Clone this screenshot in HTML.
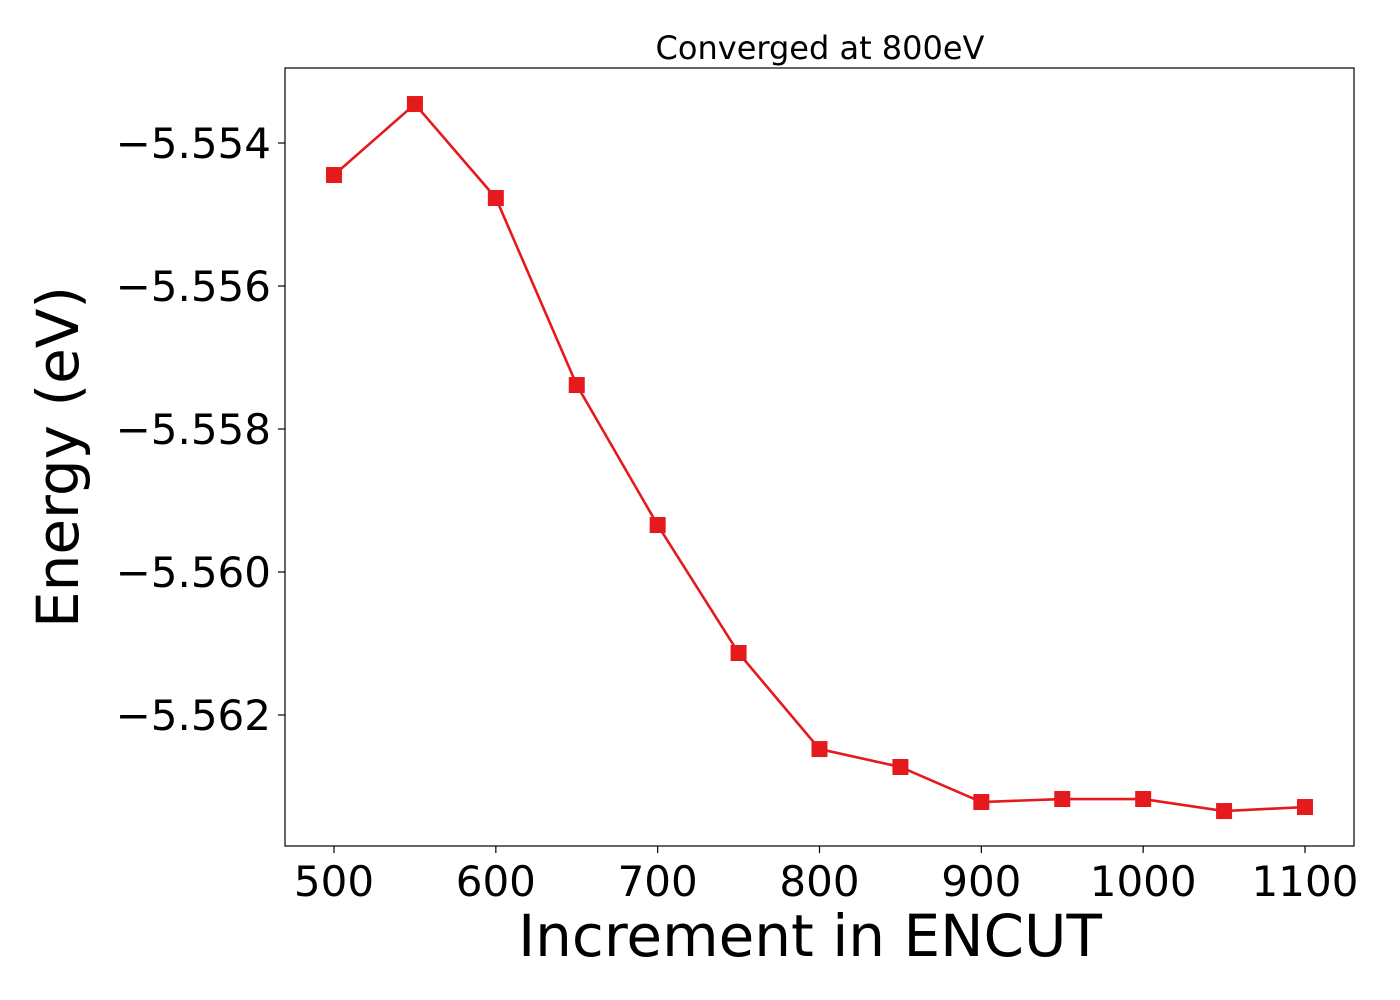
<!DOCTYPE html>
<html><head><meta charset="utf-8"><style>
html,body{margin:0;padding:0;background:#fff;width:1400px;height:1000px;overflow:hidden}
text{font-family:"DejaVu Sans","Liberation Sans",sans-serif;fill:#000}
</style></head><body>
<svg id="chart" width="1400" height="1000" xmlns="http://www.w3.org/2000/svg">
<rect x="0" y="0" width="1400" height="1000" fill="#fff"/>
<g id="grid"></g>
<g id="series"></g>
<rect x="285" y="68" width="1069" height="778" fill="none" stroke="#000" stroke-width="1.2"/>
<g id="axes"></g>
<text x="820" y="59" font-size="32" text-anchor="middle">Converged at 800eV</text>
<text x="810" y="956" font-size="58" text-anchor="middle">Increment in ENCUT</text>
<text transform="translate(78,457) rotate(-90)" font-size="58" text-anchor="middle">Energy (eV)</text>
</svg>
<script>
const categories = [500,550,600,650,700,750,800,850,900,950,1000,1050,1100];
const energies = [-5.554448,-5.553455,-5.554769,-5.557385,-5.559343,-5.561133,-5.562476,-5.562727,-5.563217,-5.563175,-5.563175,-5.563343,-5.563287];
const xTicks = [500,600,700,800,900,1000,1100];
const yTicks = [-5.554,-5.556,-5.558,-5.560,-5.562];

const NS="http://www.w3.org/2000/svg";
const L=285,R=1354,T=68,B=846;
const xMin=470,xMax=1130.5, yMin=-5.563832, yMax=-5.552951;
function xs(v){return 334+(v-500)*(1305-334)/600;}
function ys(v){return T+(yMax-v)/(yMax-yMin)*(B-T);}
const axes=document.getElementById('axes');
const series=document.getElementById('series');
function mk(tag,attrs,parent){const e=document.createElementNS(NS,tag);for(const k in attrs)e.setAttribute(k,attrs[k]);parent.appendChild(e);return e;}
xTicks.forEach(v=>{
  const t=mk('line',{x1:xs(v),x2:xs(v),y1:B,y2:B+7,stroke:'#000','stroke-width':1.2},axes);
  
  
  const l=mk('text',{x:xs(v),y:B+50,'font-size':42,'text-anchor':'middle'},axes);
  l.textContent=String(v);
  
  
});
yTicks.forEach(v=>{
  const t=mk('line',{x1:L-7,x2:L,y1:ys(v),y2:ys(v),stroke:'#000','stroke-width':1.2},axes);
  
  
  const l=mk('text',{x:L-14,y:ys(v)+15,'font-size':42,'text-anchor':'end'},axes);
  l.textContent='\u2212'+Math.abs(v).toFixed(3);
  
  
});
const pts=categories.map((c,i)=>xs(c)+','+ys(energies[i])).join(' ');
const line=mk('polyline',{points:pts,fill:'none',stroke:'#e41a1c','stroke-width':2.6},series);


categories.forEach((c,i)=>{
  const m=mk('rect',{x:xs(c)-8,y:ys(energies[i])-8,width:16,height:16,fill:'#e41a1c'},series);
  
  
});
</script>
</body></html>
